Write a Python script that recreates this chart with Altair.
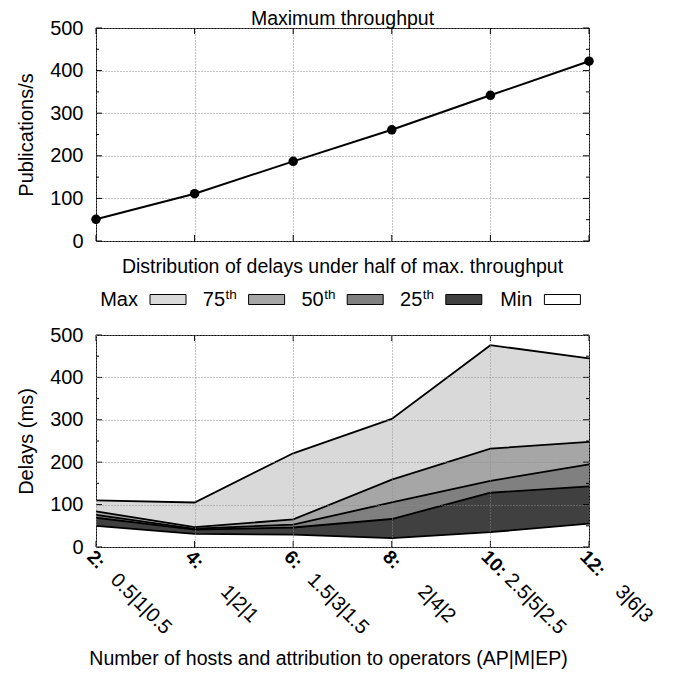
import altair as alt
import pandas as pd

# ---------------- data ----------------
hosts = [2, 4, 6, 8, 10, 12]
attribution = ["0.5|1|0.5", "1|2|1", "1.5|3|1.5", "2|4|2", "2.5|5|2.5", "3|6|3"]
throughput = [51, 111, 187, 261, 342, 422]

delay_max = [110, 105, 221, 302, 476, 445]
delay_p75 = [84, 47, 65, 159, 232, 248]
delay_p50 = [76, 43, 53, 105, 156, 195]
delay_p25 = [69, 41, 46, 66, 128, 143]
delay_min = [50, 31, 29, 21, 35, 55]

band_names = ["Max", "75th", "50th", "25th", "Min"]
band_fills = ["#d9d9d9", "#a6a6a6", "#808080", "#404040", "#ffffff"]
legend_main = ["Max", "75", "50", "25", "Min"]
legend_sup = ["", "th", "th", "th", ""]

y_major = [0, 100, 200, 300, 400, 500]
y_minor = [50, 150, 250, 350, 450]

# ---------------- style ----------------
FONT = "Liberation Sans"
FS = 20
TFS = 19.5
W = 493
H_TOP = 213
H_BOT = 212
H_LEG = 45

x_scale = alt.Scale(domain=[2, 12], nice=False, zero=False)
y_scale = alt.Scale(domain=[0, 500], nice=False, zero=True)
grid_style = dict(grid=True, gridColor="#8c8c8c", gridDash=[1, 2], gridWidth=1)

top_x_axis = alt.Axis(values=hosts, labels=False, ticks=False, domain=False,
                      title=None, **grid_style)
top_y_axis = alt.Axis(values=y_major, ticks=False, domain=False, labelPadding=13,
                      title="Publications/s", titleX=-70, titleBaseline="middle",
                      titleAngle=270, **grid_style)
bot_x_axis = alt.Axis(values=hosts, labelExpr="datum.value + ':'", labelAngle=45,
                      labelAlign="left", labelBaseline="top", labelFontWeight="bold",
                      labelFontSize=19, labelPadding=0, labelFlush=False,
                      labelOverlap=False, ticks=False, domain=False, zindex=1,
                      title="Number of hosts and attribution to operators (AP|M|EP)",
                      titleFontSize=19.5, titleX=232, titleY=117.5,
                      titleAlign="center", titleBaseline="alphabetic", **grid_style)
bot_y_axis = alt.Axis(values=y_major, ticks=False, domain=False, labelPadding=13,
                      title="Delays (ms)", titleX=-70, titleBaseline="middle",
                      titleAngle=270, zindex=1, **grid_style)


def inward_ticks(h, xa, ya):
    layers = []
    for vals, ln in ((y_major, 6), (y_minor, 3)):
        df = pd.DataFrame({"v": vals})
        base = alt.Chart(df).mark_rule(color="black", strokeWidth=1)
        layers.append(base.encode(y=alt.Y("v:Q", scale=y_scale, axis=ya),
                                  x=alt.value(0), x2=alt.value(ln)))
        layers.append(base.encode(y=alt.Y("v:Q", scale=y_scale, axis=ya),
                                  x=alt.value(W), x2=alt.value(W - ln)))
    df = pd.DataFrame({"h": hosts})
    base = alt.Chart(df).mark_rule(color="black", strokeWidth=1)
    layers.append(base.encode(x=alt.X("h:Q", scale=x_scale, axis=xa),
                              y=alt.value(0), y2=alt.value(6)))
    layers.append(base.encode(x=alt.X("h:Q", scale=x_scale, axis=xa),
                              y=alt.value(h), y2=alt.value(h - 6)))
    return layers


# ---------------- top chart ----------------
top_df = pd.DataFrame({"hosts": hosts, "throughput": throughput})
top_x = alt.X("hosts:Q", scale=x_scale, axis=top_x_axis)
top_y = alt.Y("throughput:Q", scale=y_scale, axis=top_y_axis)
top_line = alt.Chart(top_df).mark_line(color="black", strokeWidth=2).encode(x=top_x, y=top_y)
top_pts = alt.Chart(top_df).mark_circle(color="black", size=90, opacity=1).encode(
    x=top_x, y=top_y)
top = alt.layer(top_line, top_pts, *inward_ticks(H_TOP, top_x_axis, top_y_axis)).properties(
    width=W, height=H_TOP,
    title=alt.TitleParams("Maximum throughput", fontSize=TFS, fontWeight="normal",
                          anchor="middle", frame="group", offset=-11))

# ---------------- legend ----------------
leg_df = pd.DataFrame({"band": band_names, "main": legend_main, "sup": legend_sup})
lx = alt.X("band:N", scale=alt.Scale(type="band", domain=band_names, paddingInner=0,
                                     paddingOuter=0), axis=None)
leg_color = alt.Color("band:N", scale=alt.Scale(domain=band_names, range=band_fills),
                      legend=None)
leg_boxes = alt.Chart(leg_df).mark_rect(width=36, xOffset=22.7, stroke="black",
                                        strokeWidth=1, opacity=1).encode(
    x=lx, y=alt.value(19.5), y2=alt.value(29.5), color=leg_color)
leg_plain = alt.Chart(leg_df).transform_filter("datum.sup == ''").mark_text(
    align="right", baseline="alphabetic", dx=-7.3, fontSize=FS, color="black").encode(
    x=lx, y=alt.value(30.5), text="main:N")
leg_num = alt.Chart(leg_df).transform_filter("datum.sup != ''").mark_text(
    align="right", baseline="alphabetic", dx=-18.8, fontSize=FS, color="black").encode(
    x=lx, y=alt.value(30.5), text="main:N")
leg_sup = alt.Chart(leg_df).transform_filter("datum.sup != ''").mark_text(
    align="left", baseline="alphabetic", dx=-18.3, fontSize=13.5, color="black").encode(
    x=lx, y=alt.value(23.5), text="sup:N")
legend = alt.layer(leg_boxes, leg_plain, leg_num, leg_sup).properties(
    width=W, height=H_LEG, view=alt.ViewBackground(stroke=None),
    title=alt.TitleParams("Distribution of delays under half of max. throughput",
                          fontSize=TFS, fontWeight="normal", anchor="middle",
                          frame="group", offset=-2))

# ---------------- bottom chart ----------------
uppers = [delay_max, delay_p75, delay_p50, delay_p25, delay_min]
lowers = [delay_p75, delay_p50, delay_p25, delay_min, [0] * len(hosts)]
area_rows = []
for name, up, lo in zip(band_names[:4], uppers[:4], lowers[:4]):
    for h, u, l in zip(hosts, up, lo):
        area_rows.append({"hosts": h, "upper": u, "lower": l, "band": name})
area_df = pd.DataFrame(area_rows)
line_df = pd.DataFrame([{"hosts": h, "delay": v, "series": name}
                        for name, vals in zip(band_names, uppers)
                        for h, v in zip(hosts, vals)])
suffix_df = pd.DataFrame({"hosts": hosts, "attr": attribution})

bot_x = alt.X("hosts:Q", scale=x_scale, axis=bot_x_axis)
areas = alt.Chart(area_df).mark_area(opacity=1, strokeWidth=0).encode(
    x=bot_x, y=alt.Y("upper:Q", scale=y_scale, axis=bot_y_axis), y2="lower:Q",
    color=alt.Color("band:N", scale=alt.Scale(domain=band_names, range=band_fills),
                    legend=None))
lines = alt.Chart(line_df).mark_line(color="black", strokeWidth=1.8).encode(
    x=bot_x, y=alt.Y("delay:Q", scale=y_scale, axis=bot_y_axis), detail="series:N")
suffix = alt.Chart(suffix_df).mark_text(angle=45, align="center", baseline="middle",
                                        dx=72, dy=8.5, fontSize=FS, color="black").encode(
    x=bot_x, y=alt.value(H_BOT), text="attr:N")
bottom = alt.layer(areas, lines, suffix, *inward_ticks(H_BOT, bot_x_axis, bot_y_axis)).properties(
    width=W, height=H_BOT)

chart = alt.vconcat(top, legend, bottom, spacing=4).properties(
    padding={"left": 7, "top": 0, "right": 0, "bottom": 0}
).configure(font=FONT).configure_view(stroke="black", strokeWidth=1).configure_axis(
    labelFontSize=FS, titleFontSize=FS, titleFontWeight="normal", labelColor="black",
    titleColor="black", labelFont=FONT, titleFont=FONT
).configure_title(font=FONT, fontSize=TFS, fontWeight="normal", color="black")

chart.save("out.html", embed_options={"renderer": "svg", "actions": False})
